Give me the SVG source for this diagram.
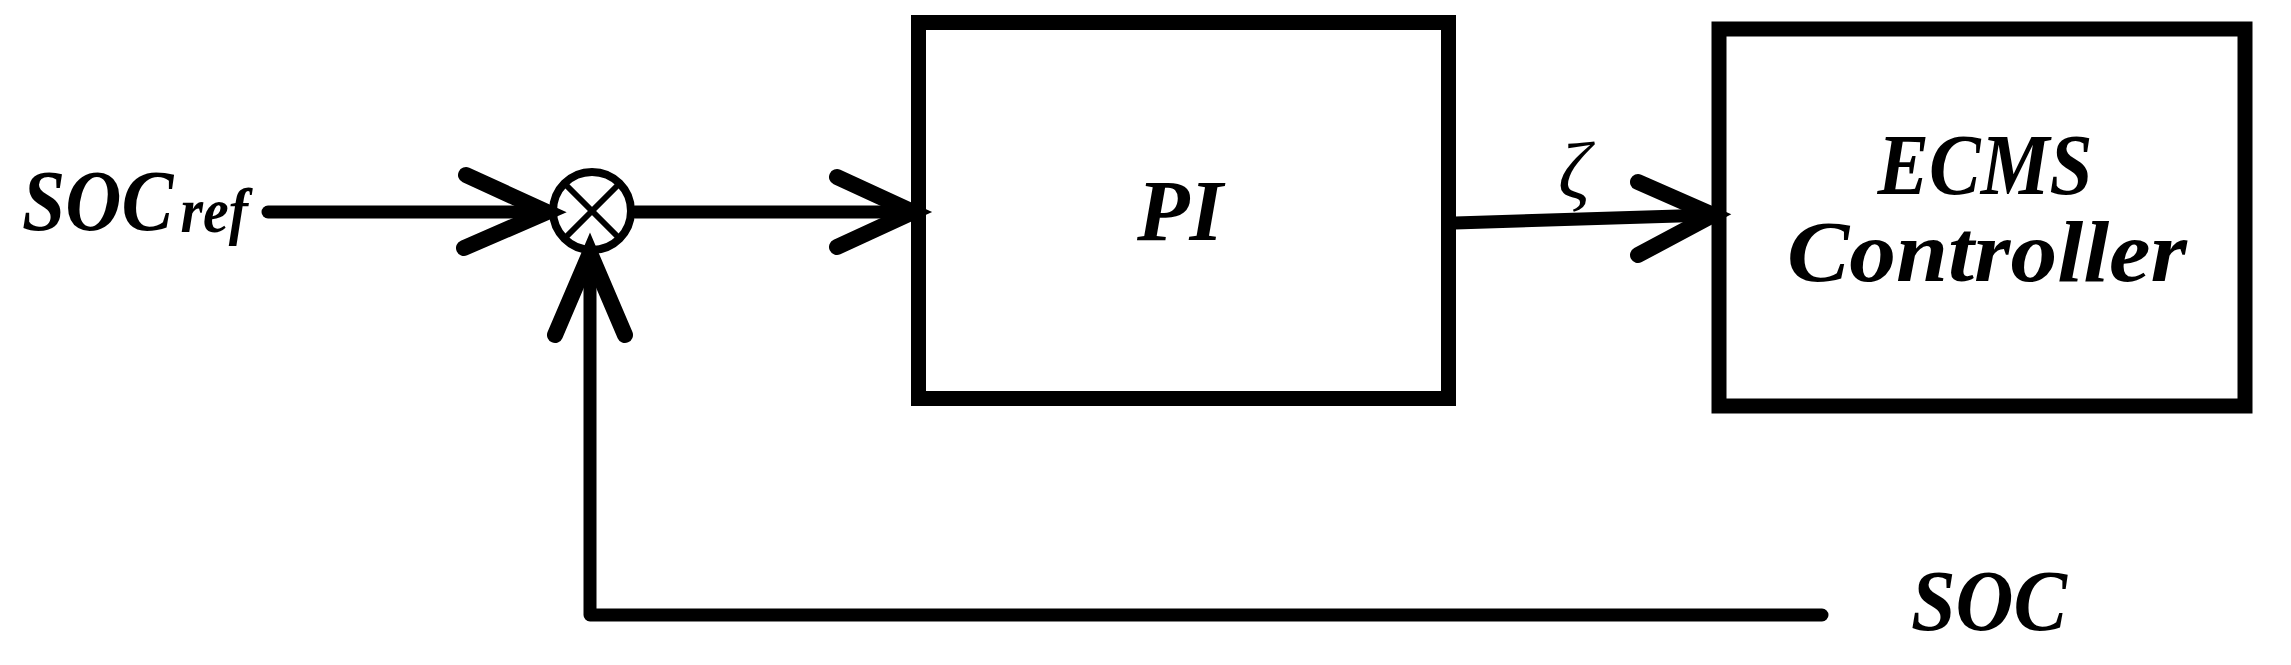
<svg xmlns="http://www.w3.org/2000/svg" width="2291" height="665" viewBox="0 0 2291 665">
<style>
.bg{fill:#fff}
.box{fill:#fff;stroke:#000;stroke-width:15}
.ln{fill:none;stroke:#000;stroke-width:13;stroke-linecap:round;stroke-linejoin:round}
.hd{fill:none;stroke:#000;stroke-width:16;stroke-linecap:round;stroke-linejoin:miter}
.lbl{font-family:"Liberation Serif","Times New Roman",serif;font-weight:bold;font-style:italic;font-size:86px;fill:#000}
.zeta{font-family:"Liberation Serif","Times New Roman",serif;font-style:italic;font-size:80px;fill:#000}
</style>
<rect class="bg" x="0" y="0" width="2291" height="665"/>
<g id="input-label">
<text class="lbl" x="22" y="230" textLength="226" lengthAdjust="spacingAndGlyphs">SOC<tspan font-size="64" dx="8" dy="2">ref</tspan></text>
</g>
<g id="sum">
<circle cx="592" cy="211" r="39" fill="#fff" stroke="#000" stroke-width="8"/>
<line x1="564" y1="183" x2="620" y2="239" stroke="#000" stroke-width="6"/>
<line x1="620" y1="183" x2="564" y2="239" stroke="#000" stroke-width="6"/>
</g>
<g id="pi">
<rect class="box" x="918.5" y="22.5" width="530" height="376"/>
<text class="lbl" x="1180" y="240" text-anchor="middle" font-size="90">PI</text>
</g>
<g id="ecms">
<rect class="box" x="1719" y="29" width="526" height="377"/>
<text class="lbl" x="1985" y="194" text-anchor="middle" textLength="215" lengthAdjust="spacingAndGlyphs">ECMS</text>
<text class="lbl" x="1987" y="281" text-anchor="middle" textLength="400" lengthAdjust="spacingAndGlyphs">Controller</text>
</g>
<g id="feedback-label">
<text class="lbl" x="1911" y="630" textLength="156" lengthAdjust="spacingAndGlyphs">SOC</text>
</g>
<g id="connectors">
<line class="ln" x1="268" y1="212" x2="545" y2="212"/>
<polyline class="hd" points="466,175 547,212 464,248"/>
<line class="ln" x1="635" y1="212" x2="911" y2="212"/>
<polyline class="hd" points="837,177 913,212 837,247"/>
<line class="ln" x1="1455" y1="223" x2="1711" y2="215"/>
<polyline class="hd" points="1638,182 1713,215 1638,255"/>
<polyline class="ln" points="1822,615 590,615 590,256"/>
<polyline class="hd" points="555,335 590,253 625,335"/>
<text class="zeta" x="1558" y="198">ζ</text>
</g>
</svg>
